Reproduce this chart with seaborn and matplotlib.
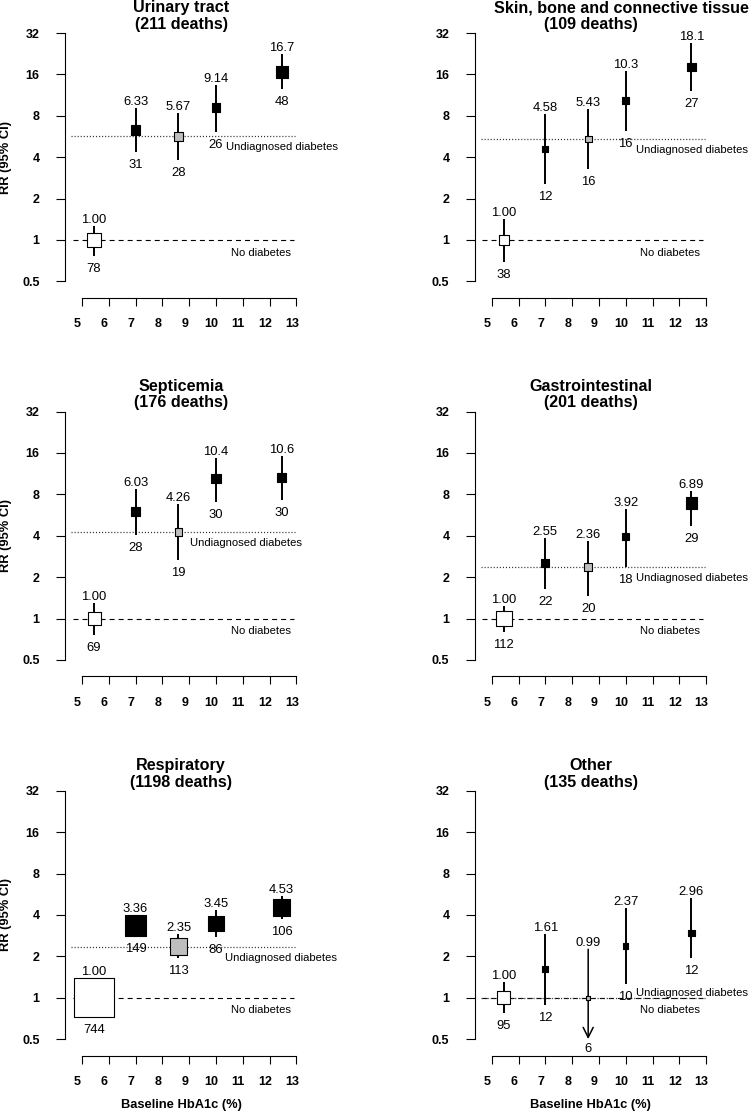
import numpy as np
import pandas as pd
import matplotlib
matplotlib.use('Agg')
import matplotlib.pyplot as plt
import matplotlib.transforms as mtransforms
from matplotlib.ticker import NullLocator
import seaborn as sns

# ============================================================================
# DATA
# ============================================================================

CAUSES = ['Urinary tract', 'Skin, bone and connective tissue', 'Septicemia',
          'Gastrointestinal', 'Respiratory', 'Other']
TOTAL_DEATHS = [211, 109, 176, 201, 1198, 135]

HBA1C = [5.45, 7.0, 8.6, 10.0, 12.45]
GROUP = ['ref', 'diag', 'undiag', 'diag', 'diag']

RR = [
    [1.00, 6.33, 5.67, 9.14, 16.7],
    [1.00, 4.58, 5.43, 10.3, 18.1],
    [1.00, 6.03, 4.26, 10.4, 10.6],
    [1.00, 2.55, 2.36, 3.92, 6.89],
    [1.00, 3.36, 2.35, 3.45, 4.53],
    [1.00, 1.61, 0.99, 2.37, 2.96],
]
RR_LOW = [
    [0.77, 4.39, 3.82, 6.13, 12.5],
    [0.69, 2.54, 3.27, 6.20, 12.2],
    [0.76, 4.08, 2.65, 7.05, 7.25],
    [0.80, 1.63, 1.46, 2.35, 4.69],
    [0.915, 2.85, 1.93, 2.78, 3.73],
    [0.78, 0.885, 0.40, 1.26, 1.93],
]
RR_HIGH = [
    [1.27, 9.07, 8.34, 13.4, 22.4],
    [1.42, 8.20, 8.96, 17.0, 26.9],
    [1.29, 8.77, 6.75, 14.7, 15.1],
    [1.23, 3.86, 3.65, 6.30, 8.43],
    [1.09, 3.95, 2.89, 4.34, 5.52],
    [1.31, 2.90, 2.25, 4.47, 5.33],
]
DEATHS = [
    [78, 31, 28, 26, 48],
    [38, 12, 16, 16, 27],
    [69, 28, 19, 30, 30],
    [112, 22, 20, 18, 29],
    [744, 149, 113, 86, 106],
    [95, 12, 6, 10, 12],
]

Y_TICKS = [0.5, 1, 2, 4, 8, 16, 32]
Y_TICK_LABELS = ['0.5', '1', '2', '4', '8', '16', '32']
X_TICKS = list(range(5, 14))

# ============================================================================
# STYLE / LAYOUT
# ============================================================================

sns.set_theme(style='ticks')
plt.rcParams['font.family'] = ['Liberation Sans', 'DejaVu Sans']
plt.rcParams['lines.scale_dashes'] = False
for k in ['axes.edgecolor', 'xtick.color', 'ytick.color', 'text.color', 'axes.labelcolor']:
    plt.rcParams[k] = 'black'

GROUP_COLORS = {'ref': 'white', 'diag': 'black', 'undiag': '#bebebe'}
AREA_PER_WEIGHT = 1.59   # marker area (pt^2) per unit of inverse variance

W, H = 750, 1112
PX_UNIT = 26.8          # px per HbA1c unit
PX_DOUBLING = 41.4      # px per doubling of RR
XLIM = (4.38, 13.4)
YLOG = (-1.40, 5.2)
COL_X5 = [82.0, 491.7]          # pixel x of HbA1c = 5
ROW_Y1 = [240.0, 618.5, 997.7]  # pixel y of RR = 1

UNDIAG_LABEL_X = [10.37, 10.37, 9.04, 10.37, 10.35, 10.4]
UNDIAG_LABEL_ABOVE = [False, False, False, False, False, True]
TITLE_SHIFT = [0, 22, 0, 0, 0, 0]   # points, first title line

TICK_FS = 9.0
VALUE_FS = 9.4

fig = plt.figure(figsize=(W / 100, H / 100), dpi=100)

def fmt_rr(v):
    return f'{v:.2f}' if v < 10 else f'{v:.1f}'

for i, cause in enumerate(CAUSES):
    row, col = divmod(i, 2)
    left_px = COL_X5[col] - (5 - XLIM[0]) * PX_UNIT
    bottom_px = ROW_Y1[row] - YLOG[0] * PX_DOUBLING
    w_px = (XLIM[1] - XLIM[0]) * PX_UNIT
    h_px = (YLOG[1] - YLOG[0]) * PX_DOUBLING
    ax = fig.add_axes([left_px / W, (H - bottom_px) / H, w_px / W, h_px / H])
    ax.set_facecolor('none')
    ax.set_yscale('log', base=2)
    ax.set_xlim(*XLIM)
    ax.set_ylim(2 ** YLOG[0], 2 ** YLOG[1])

    # reference lines
    undiag = RR[i][2]
    ax.plot([4.65, 12.9], [1, 1], color='black', lw=0.8, dashes=(3.6, 2.9), zorder=1)
    ax.plot([4.6, 12.95], [undiag, undiag], color='#333333', lw=0.9,
            dashes=(0.8, 1.4), zorder=1)

    # confidence intervals
    for x, lo, hi in zip(HBA1C, RR_LOW[i], RR_HIGH[i]):
        if lo < Y_TICKS[0]:
            ax.annotate('', xy=(x, Y_TICKS[0]), xytext=(x, hi),
                        arrowprops=dict(arrowstyle='->,head_length=0.6,head_width=0.3',
                                        lw=1.1, color='black', shrinkA=0, shrinkB=0,
                                        mutation_scale=12), zorder=2)
        else:
            ax.vlines(x, lo, hi, color='black', lw=1.4, zorder=2)

    # squares sized by inverse variance of log RR (SE taken from the 95% CI)
    se = np.log(np.array(RR_HIGH[i]) / np.array(RR_LOW[i])) / 3.92
    weight = 1 / se ** 2
    df = pd.DataFrame({'hba1c': HBA1C, 'rr': RR[i], 'group': GROUP, 'weight': weight})
    sns.scatterplot(data=df, x='hba1c', y='rr', hue='group', palette=GROUP_COLORS,
                    size='weight', sizes=(0, 1000 * AREA_PER_WEIGHT), size_norm=(0, 1000),
                    marker='s', edgecolor='black', linewidth=0.8, legend=False, ax=ax, zorder=3)

    # estimate labels above, death counts below
    for x, r, lo, hi, d, wt in zip(HBA1C, RR[i], RR_LOW[i], RR_HIGH[i], DEATHS[i], weight):
        half_px = np.sqrt(AREA_PER_WEIGHT * wt) / 2 * 100 / 72
        c_px = ax.transData.transform((x, r))[1]
        hi_px = ax.transData.transform((x, hi))[1]
        arrow = lo < Y_TICKS[0]
        lo_px = ax.transData.transform((x, max(lo, Y_TICKS[0])))[1]
        up = max(hi_px - c_px, half_px) + 3
        down = max(c_px - lo_px, half_px) + (4 if arrow else 7)
        ax.annotate(fmt_rr(r), xy=(x, r), xytext=(0, up * 0.72), textcoords='offset points',
                    ha='center', va='baseline', fontsize=VALUE_FS)
        ax.annotate(str(d), xy=(x, r), xytext=(0, -down * 0.72), textcoords='offset points',
                    ha='center', va='top', fontsize=VALUE_FS)

    if UNDIAG_LABEL_ABOVE[i]:
        ax.annotate('Undiagnosed diabetes', xy=(UNDIAG_LABEL_X[i], undiag), xytext=(0, 0),
                    textcoords='offset points', ha='left', va='bottom', fontsize=8.1)
    else:
        ax.annotate('Undiagnosed diabetes', xy=(UNDIAG_LABEL_X[i], undiag), xytext=(0, -4.3),
                    textcoords='offset points', ha='left', va='top', fontsize=8.1)
    ax.annotate('No diabetes', xy=(10.55, 1), xytext=(0, -5.5), textcoords='offset points',
                ha='left', va='top', fontsize=8.1)

    # title in two lines
    ax.annotate(cause, xy=(8.7, 32), xytext=(TITLE_SHIFT[i], 14.8), textcoords='offset points',
                ha='center', va='baseline', fontsize=11.6, fontweight='bold')
    ax.annotate(f'({TOTAL_DEATHS[i]} deaths)', xy=(8.7, 32), xytext=(0, 2.9),
                textcoords='offset points', ha='center', va='baseline',
                fontsize=11.6, fontweight='bold')

    # axes
    sns.despine(ax=ax)
    ax.spines['left'].set_bounds(Y_TICKS[0], Y_TICKS[-1])
    ax.spines['bottom'].set_bounds(X_TICKS[0], X_TICKS[-1])
    for s in ['left', 'bottom']:
        ax.spines[s].set_linewidth(0.8)
    ax.set_yticks(Y_TICKS)
    ax.set_yticklabels(Y_TICK_LABELS, fontweight='bold', fontsize=TICK_FS)
    ax.yaxis.set_minor_locator(NullLocator())
    ax.set_xticks(X_TICKS)
    ax.set_xticklabels([str(t) for t in X_TICKS], fontweight='bold', fontsize=TICK_FS)
    ax.tick_params(axis='y', length=6.5, width=0.8, pad=12)
    ax.tick_params(axis='x', length=5.5, width=0.8, pad=9.0)
    shift = mtransforms.ScaledTranslation(-3.2 / 72, 0, fig.dpi_scale_trans)
    for lbl in ax.get_xticklabels():
        lbl.set_transform(lbl.get_transform() + shift)

    ax.set_xlabel('')
    ax.set_ylabel('')
    if col == 0:
        ax.set_ylabel('RR (95% CI)', fontweight='bold', fontsize=9.3)
        ax.yaxis.set_label_coords((6 - left_px) / w_px, (2 - YLOG[0]) / (YLOG[1] - YLOG[0]))
        ax.yaxis.label.set_va('center')
    if row == 2:
        ax.set_xlabel('Baseline HbA1c (%)', fontweight='bold', fontsize=9.3)
        ax.xaxis.set_label_coords((8.7 - XLIM[0]) / (XLIM[1] - XLIM[0]), -49.3 / h_px)
        ax.xaxis.label.set_va('center')

fig.savefig('out.png', dpi=100)
